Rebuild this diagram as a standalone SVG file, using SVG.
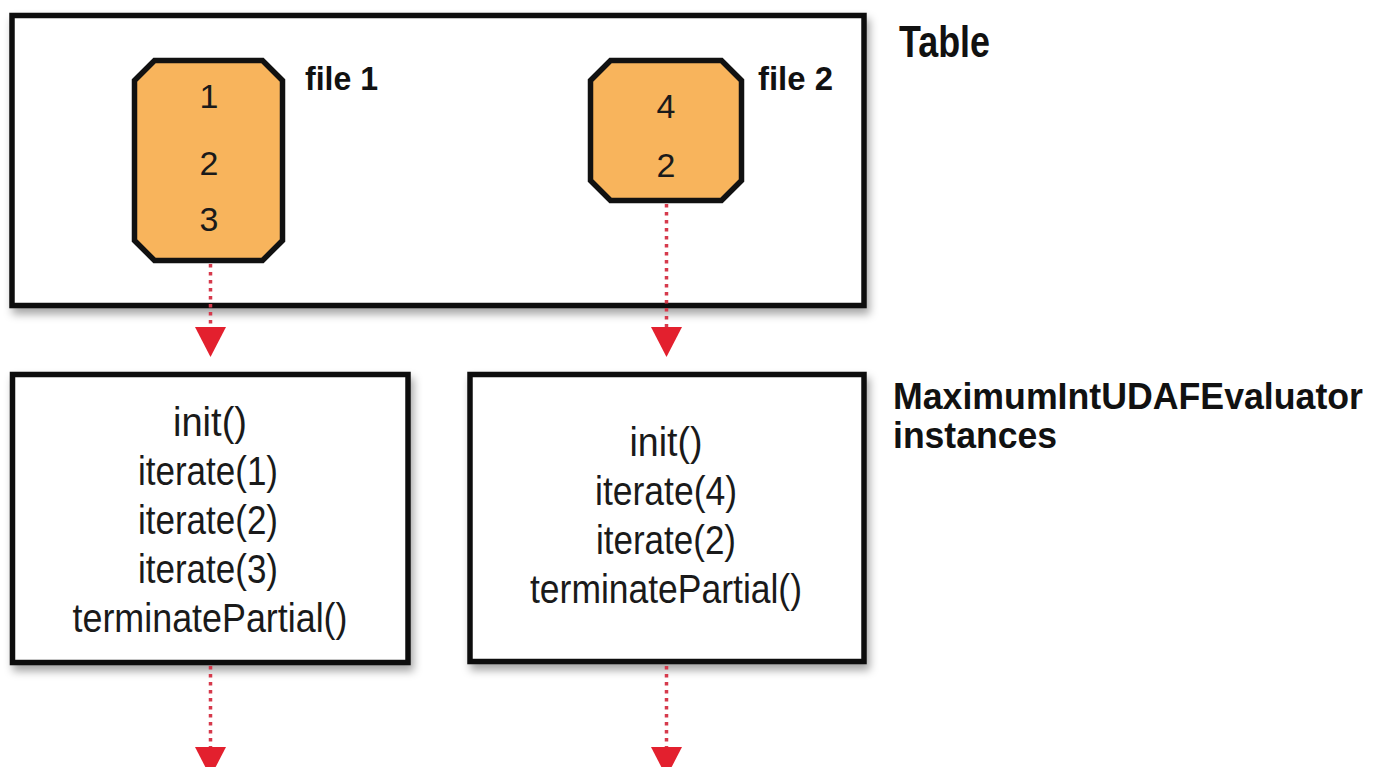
<svg xmlns="http://www.w3.org/2000/svg" width="1386" height="767" viewBox="0 0 1386 767">
<style>
.box{fill:#ffffff;stroke:#111111;stroke-width:5.5}
.oct{fill:#f8b45c;stroke:#111111;stroke-width:5.5;stroke-linejoin:miter}
.lbl{font-family:"Liberation Sans Narrow","Liberation Sans",Arial,sans-serif;font-weight:bold;fill:#111111}
.txt{font-family:"Liberation Sans Narrow","Liberation Sans",Arial,sans-serif;fill:#1a1a1a;text-anchor:middle}
.dot{stroke:#d63a4c;stroke-width:3.5;stroke-dasharray:3.5 4.5;fill:none}
</style>
<defs>
<filter id="sh" x="-5%" y="-5%" width="115%" height="120%">
<feDropShadow dx="3" dy="6" stdDeviation="4" flood-color="#000000" flood-opacity="0.35"/>
</filter>
<marker id="ah" viewBox="0 0 30 31" markerWidth="30" markerHeight="31" markerUnits="userSpaceOnUse" refX="0" refY="15.5" orient="auto">
<path d="M0,0 L30,15.5 L0,31 z" fill="#e3202e"/>
</marker>
</defs>
<rect width="1386" height="767" fill="#ffffff"/>

<g id="table">
<rect class="box" x="12" y="15.5" width="852" height="290" filter="url(#sh)"/>
<text class="lbl" x="899" y="57" font-size="44" textLength="91" lengthAdjust="spacingAndGlyphs">Table</text>
</g>

<g id="file1">
<polygon class="oct" points="154.5,60.5 262.5,60.5 282.5,80.5 282.5,240.5 262.5,260.5 154.5,260.5 134.5,240.5 134.5,80.5"/>
<text class="txt" x="209" y="108" font-size="34">1</text>
<text class="txt" x="209" y="175" font-size="34">2</text>
<text class="txt" x="209" y="231" font-size="34">3</text>
<text class="lbl" x="305" y="90" font-size="34" textLength="73" lengthAdjust="spacingAndGlyphs">file 1</text>
</g>

<g id="file2">
<polygon class="oct" points="610.5,60.5 721.5,60.5 741.5,80.5 741.5,180.5 721.5,200.5 610.5,200.5 590.5,180.5 590.5,80.5"/>
<text class="txt" x="666" y="118" font-size="34">4</text>
<text class="txt" x="666" y="177" font-size="34">2</text>
<text class="lbl" x="758" y="90" font-size="34" textLength="75" lengthAdjust="spacingAndGlyphs">file 2</text>
</g>

<g id="evaluator1">
<rect class="box" x="12.5" y="374.5" width="395.5" height="288" filter="url(#sh)"/>
<text class="txt" x="210" y="436" font-size="40" textLength="74" lengthAdjust="spacingAndGlyphs">init()</text>
<text class="txt" x="208" y="485" font-size="40" textLength="140" lengthAdjust="spacingAndGlyphs">iterate(1)</text>
<text class="txt" x="208" y="534" font-size="40" textLength="140" lengthAdjust="spacingAndGlyphs">iterate(2)</text>
<text class="txt" x="208" y="583" font-size="40" textLength="140" lengthAdjust="spacingAndGlyphs">iterate(3)</text>
<text class="txt" x="210" y="632" font-size="40" textLength="275" lengthAdjust="spacingAndGlyphs">terminatePartial()</text>
</g>

<g id="evaluator2">
<rect class="box" x="470" y="374.5" width="394" height="287" filter="url(#sh)"/>
<text class="txt" x="666" y="456" font-size="40" textLength="73" lengthAdjust="spacingAndGlyphs">init()</text>
<text class="txt" x="666" y="505" font-size="40" textLength="142" lengthAdjust="spacingAndGlyphs">iterate(4)</text>
<text class="txt" x="666" y="554" font-size="40" textLength="140" lengthAdjust="spacingAndGlyphs">iterate(2)</text>
<text class="txt" x="666" y="603" font-size="40" textLength="272" lengthAdjust="spacingAndGlyphs">terminatePartial()</text>
</g>

<g id="evaluator-label">
<text class="lbl" x="893" y="409" font-size="36" textLength="470" lengthAdjust="spacingAndGlyphs">MaximumIntUDAFEvaluator</text>
<text class="lbl" x="893" y="448" font-size="36" textLength="164" lengthAdjust="spacingAndGlyphs">instances</text>
</g>

<g id="connectors">
<line class="dot" x1="210.5" y1="264" x2="210.5" y2="327" marker-end="url(#ah)"/>
<line class="dot" x1="666.5" y1="204" x2="666.5" y2="327" marker-end="url(#ah)"/>
<line class="dot" x1="210.5" y1="666" x2="210.5" y2="747" marker-end="url(#ah)"/>
<line class="dot" x1="666.5" y1="666" x2="666.5" y2="747" marker-end="url(#ah)"/>
</g>
</svg>
